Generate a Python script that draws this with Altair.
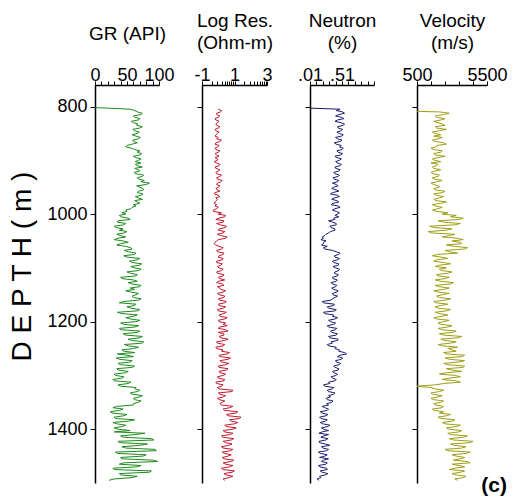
import altair as alt
import pandas as pd

# sampling depths (m), 2.5 m step from 805 m
DEPTH = [805 + 2.5 * i for i in range(277)]

GR = [55, 62, 66, 74, 72, 60, 62, 70, 68, 57, 60, 67, 65, 74, 70, 59, 62, 69, 66, 58,
      64, 71, 68, 59, 60, 66, 58, 50, 48, 57, 62, 70, 66, 73, 70, 60, 64, 72, 68, 63,
      72, 63, 66, 74, 62, 68, 70, 61, 64, 76, 74, 66, 68, 77, 72, 85, 80, 65, 70, 75,
      76, 68, 66, 75, 72, 63, 68, 74, 62, 66, 70, 60, 64, 58, 56, 48, 50, 42, 48, 38,
      40, 52, 55, 36, 35, 48, 45, 30, 32, 44, 38, 50, 46, 34, 40, 48, 36, 30, 44, 52,
      40, 34, 48, 56, 58, 46, 52, 64, 62, 45, 50, 70, 66, 54, 58, 73, 70, 56, 62, 72,
      68, 50, 55, 66, 64, 40, 42, 60, 66, 52, 58, 72, 70, 55, 62, 48, 56, 68, 64, 58,
      60, 72, 68, 45, 38, 64, 62, 50, 56, 70, 66, 35, 42, 66, 60, 48, 55, 70, 64, 40,
      45, 68, 62, 38, 40, 70, 66, 44, 48, 74, 70, 52, 58, 76, 74, 46, 52, 68, 60, 42,
      45, 62, 35, 50, 60, 33, 38, 58, 55, 36, 40, 62, 58, 34, 36, 52, 48, 30, 32, 45,
      42, 28, 30, 56, 52, 36, 40, 64, 62, 70, 66, 55, 58, 74, 70, 60, 62, 72, 68, 60,
      60, 35, 28, 44, 38, 24, 26, 50, 45, 30, 32, 62, 52, 28, 34, 48, 42, 30, 36, 55,
      30, 78, 62, 40, 45, 88, 92, 36, 38, 82, 70, 42, 48, 94, 96, 32, 35, 80, 75, 40,
      42, 90, 98, 45, 38, 72, 65, 28, 30, 88, 85, 38, 40, 66, 58, 30, 22]

LOG_RES = [0.0, 0.2, 0.15, -0.1, -0.1, 0.1, 0.0, -0.2, -0.15, 0.05, -0.05, -0.15, -0.1, 0.1, 0.0, -0.2, -0.15, 0.05, -0.05, -0.15,
           -0.2, 0.0, -0.1, 0.2, 0.1, -0.15, -0.2, 0.05, -0.05, -0.2, -0.15, 0.1, 0.0, -0.2, -0.1, 0.05, -0.2, -0.05, -0.05, -0.25,
           -0.1, 0.1, 0.05, -0.2, -0.15, 0.1, 0.0, -0.15, -0.1, 0.2, 0.1, -0.1, -0.05, 0.25, 0.15, -0.05, -0.1, 0.1, 0.0, -0.15,
           -0.05, 0.1, -0.2, -0.25, 0.0, 0.1, -0.15, -0.05, -0.1, -0.2, -0.25, -0.1, -0.2, 0.0, -0.1, -0.3, -0.3, 0.2, 0.0, 0.45,
           0.4, 0.05, -0.15, 0.35, 0.3, -0.1, 0.1, 0.5, 0.45, 0.05, 0.0, 0.4, 0.3, -0.05, 0.15, 0.55, 0.45, 0.0, -0.1, -0.2,
           -0.25, -0.15, 0.05, 0.3, 0.2, -0.1, -0.05, 0.35, 0.3, 0.05, 0.0, 0.3, 0.25, -0.1, -0.1, 0.25, 0.15, -0.05, 0.05, 0.3,
           0.2, -0.1, -0.05, 0.35, 0.3, 0.0, 0.1, 0.4, 0.0, -0.1, 0.25, 0.35, -0.05, 0.1, 0.15, 0.45, 0.3, -0.05, 0.05, 0.4,
           0.35, 0.0, 0.1, 0.5, 0.4, 0.0, 0.05, 0.45, 0.3, -0.05, 0.0, 0.5, 0.35, 0.05, 0.1, 0.55, 0.4, 0.0, 0.05, 0.45,
           0.3, 0.55, 0.1, 0.0, 0.45, 0.6, 0.0, 0.35, 0.35, 0.05, 0.15, 0.6, 0.4, -0.1, -0.05, 0.4, 0.3, -0.15, -0.1, 0.3,
           0.2, 0.7, 0.55, 0.05, 0.1, 0.75, 0.6, 0.1, 0.2, 0.65, 0.45, 0.0, 0.05, 0.6, 0.5, 0.05, 0.1, 0.45, 0.3, -0.05,
           0.0, 0.4, 0.35, -0.15, -0.1, 0.3, 0.2, -0.05, 0.05, 0.9, 0.85, 0.0, 0.1, 0.45, 0.3, -0.05, 0.05, 0.4, 0.25, 0.1,
           0.2, 0.9, 0.7, 0.3, 0.4, 1.2, 1.1, 0.5, 0.6, 1.4, 1.3, 0.7, 0.8, 1.2, 1.0, 0.4, 0.5, 1.1, 0.9, 0.3,
           0.4, 0.9, 0.7, 0.2, 0.3, 0.95, 0.8, 0.3, 0.45, 0.85, 0.65, 0.2, 0.3, 0.9, 0.75, 0.25, 0.4, 0.8, 0.6, 0.25,
           0.35, 0.95, 0.8, 0.3, 0.45, 0.9, 0.7, 0.2, 0.3, 1.0, 0.85, 0.35, 0.5, 0.9, 0.65, 0.3, 0.4]

NEUTRON = [0.48, 0.42, 0.52, 0.55, 0.46, 0.41, 0.50, 0.54, 0.44, 0.40, 0.49, 0.55, 0.53, 0.44, 0.45, 0.52, 0.50, 0.43, 0.47, 0.53,
           0.50, 0.41, 0.44, 0.51, 0.48, 0.39, 0.42, 0.50, 0.47, 0.53, 0.51, 0.43, 0.45, 0.52, 0.49, 0.40, 0.43, 0.50, 0.47, 0.41,
           0.44, 0.50, 0.48, 0.40, 0.41, 0.48, 0.46, 0.38, 0.40, 0.47, 0.45, 0.37, 0.39, 0.46, 0.44, 0.36, 0.42, 0.45, 0.38, 0.35,
           0.42, 0.46, 0.36, 0.33, 0.44, 0.47, 0.39, 0.35, 0.43, 0.46, 0.37, 0.34, 0.45, 0.48, 0.40, 0.36, 0.42, 0.47, 0.44, 0.40,
           0.46, 0.38, 0.40, 0.30, 0.36, 0.42, 0.42, 0.32, 0.34, 0.40, 0.40, 0.33, 0.30, 0.26, 0.24, 0.20, 0.22, 0.18, 0.26, 0.22,
           0.22, 0.19, 0.28, 0.22, 0.24, 0.36, 0.42, 0.48, 0.46, 0.39, 0.40, 0.47, 0.44, 0.36, 0.38, 0.46, 0.45, 0.37, 0.41, 0.47,
           0.46, 0.40, 0.39, 0.45, 0.44, 0.36, 0.37, 0.44, 0.42, 0.34, 0.36, 0.43, 0.41, 0.35, 0.38, 0.45, 0.43, 0.36, 0.37, 0.44,
           0.40, 0.36, 0.34, 0.20, 0.22, 0.39, 0.38, 0.28, 0.30, 0.42, 0.40, 0.22, 0.24, 0.38, 0.36, 0.44, 0.40, 0.30, 0.33, 0.41,
           0.38, 0.28, 0.30, 0.43, 0.41, 0.33, 0.35, 0.44, 0.42, 0.30, 0.32, 0.45, 0.44, 0.34, 0.36, 0.28, 0.30, 0.42, 0.40, 0.47,
           0.46, 0.55, 0.58, 0.48, 0.44, 0.52, 0.50, 0.41, 0.42, 0.49, 0.47, 0.38, 0.40, 0.46, 0.45, 0.36, 0.38, 0.44, 0.42, 0.34,
           0.36, 0.42, 0.40, 0.30, 0.32, 0.22, 0.24, 0.38, 0.36, 0.28, 0.30, 0.40, 0.38, 0.30, 0.33, 0.26, 0.28, 0.37, 0.35, 0.27,
           0.30, 0.20, 0.24, 0.30, 0.28, 0.17, 0.20, 0.29, 0.26, 0.16, 0.18, 0.28, 0.25, 0.17, 0.21, 0.32, 0.29, 0.19, 0.22, 0.30,
           0.20, 0.15, 0.30, 0.22, 0.18, 0.29, 0.26, 0.15, 0.16, 0.25, 0.32, 0.19, 0.21, 0.30, 0.27, 0.14, 0.17, 0.28, 0.24, 0.16,
           0.30, 0.22, 0.19, 0.28, 0.26, 0.14, 0.16, 0.27, 0.28, 0.17, 0.20, 0.29, 0.25, 0.16, 0.18, 0.12, 0.15]

# velocity log starts at 810 m
VELOCITY = [2100, 2800, 2400, 1800, 1900, 2500, 2200, 1700, 2000, 2300, 2500, 1800, 1900, 2600, 2100, 1600, 1800, 2200,
            1700, 2300, 2000, 1600, 1800, 2400, 2600, 1900, 1900, 1500, 1700, 2300, 2200, 1700, 1800, 2500, 2000, 1600, 1750, 2200,
            1500, 2000, 1900, 1600, 1700, 2200, 1800, 1500, 1650, 2100, 2000, 1600, 1750, 2300, 1900, 1500, 1700, 2000, 2100, 1700,
            1800, 2500, 2300, 1700, 1900, 2400, 2100, 1700, 1850, 2600, 2200, 1600, 1800, 2300, 2000, 1600, 1900, 2700, 2300, 3300,
            2900, 3800, 3500, 2000, 2400, 3600, 3200, 1400, 1700, 3000, 2600, 1300, 1500, 3200, 2800, 2300, 3400, 3800, 3000, 3600,
            3700, 2600, 3200, 4100, 3900, 2500, 2800, 3400, 2000, 1600, 2200, 2700, 1900, 1700, 2400, 2900, 2100, 1800, 2600, 2100,
            2300, 3000, 2700, 1900, 2000, 2800, 2500, 1800, 2200, 3100, 2900, 1800, 2100, 2800, 2400, 1700, 2000, 2800, 2300, 1900,
            2100, 2900, 2500, 1700, 1900, 2700, 2200, 1800, 2000, 2900, 2600, 1800, 2100, 2700, 2300, 1700, 1900, 2800, 2400, 2000,
            2200, 3000, 2700, 2000, 2300, 3300, 3000, 2100, 2400, 3700, 3400, 2200, 2500, 3300, 2900, 2000, 2300, 3400, 2700, 3000,
            3300, 2400, 2600, 3900, 3700, 2500, 2800, 3900, 3500, 2400, 2700, 3900, 3800, 2600, 3000, 3700, 2600, 2100, 3200, 3600,
            2800, 2300, 3300, 3600, 2400, 1800, 500, 1500, 1800, 2400, 2100, 1500, 1600, 2300, 2000, 1500, 1700, 2400, 2200, 1700,
            1800, 2400, 2300, 1600, 1700, 2400, 2100, 2900, 2600, 2000, 2200, 3200, 3000, 2300, 2500, 3600, 3300, 2600, 2800, 3700,
            3500, 2700, 2900, 4100, 3800, 2800, 3100, 4500, 4300, 2900, 3200, 4000, 3700, 2500, 2700, 4300, 4000, 3000, 3300, 3900,
            3600, 3100, 4100, 4300, 3000, 3500, 3900, 3200, 2800, 3900, 3600, 3000, 3300, 4000, 3800, 3200, 3400]

# lead-in points (depth, value) where a trace starts from the track's left edge
GR_LEAD = (802, 0)
NEUTRON_LEAD = (803, 0.01)
VELOCITY_LEAD = (809, 500)

# axis ticks and labels
DEPTH_DOMAIN = [760, 1500]
DEPTH_TICKS = [800, 1000, 1200, 1400]
GR_TICKS = [0, 10, 20, 30, 40, 50, 60, 70, 80, 90, 100]
GR_LABELS = [0, 50, 100]
RES_TICKS = [-1, -0.4, -0.05, 0.2, 0.4, 0.56, 0.69, 0.81, 0.91, 1,
             1.6, 1.95, 2.2, 2.4, 2.56, 2.69, 2.81, 2.91, 3]
RES_LABELS = [-1, 1, 3]
NEU_TICKS = [0.01, 0.11, 0.21, 0.31, 0.41, 0.51, 0.61, 0.71, 0.81, 0.91, 1.01]
NEU_LABELS = [0.01, 0.51]
VEL_TICKS = [500, 1500, 2500, 3500, 4500, 5500]
VEL_LABELS = [500, 5500]

FONT = "Arial"


def frame(depths, values, lead=None):
    d = list(depths)[:len(values)]
    v = list(values)[:len(d)]
    if lead is not None:
        d = [lead[0]] + d
        v = [lead[1]] + v
    return pd.DataFrame({"depth": d, "value": v})


def label_expr(labels, texts):
    parts = []
    for val, txt in zip(labels, texts):
        parts.append(f"datum.value == {val} ? '{txt}' : ")
    return "".join(parts) + "''"


def track(df, domain, ticks, lexpr, title, color, width, first, title_pad):
    if first:
        yaxis = alt.Axis(values=DEPTH_TICKS, labels=True, ticks=True, tickSize=5,
                         format="d", title="D E P T H ( m )",
                         labelFontSize=18, labelPadding=3,
                         titleFontSize=28, titlePadding=10, titleY=181)
    else:
        yaxis = alt.Axis(values=DEPTH_TICKS, labels=False, ticks=True, tickSize=5, title=None)
    return alt.Chart(df).mark_line(color=color, strokeWidth=1).encode(
        x=alt.X("value:Q",
                scale=alt.Scale(domain=domain, nice=False, zero=False),
                axis=alt.Axis(orient="top", values=ticks, labelExpr=lexpr,
                              title=title, titlePadding=title_pad,
                              labelFontSize=18, labelPadding=-3, tickSize=4,
                              labelFlush=False, labelOverlap=False)),
        y=alt.Y("depth:Q",
                scale=alt.Scale(domain=DEPTH_DOMAIN, reverse=True, nice=False, zero=False),
                axis=yaxis),
        order=alt.Order("depth:Q"),
    ).properties(width=width, height=398)


gr_chart = track(frame(DEPTH, GR, GR_LEAD), [0, 100], GR_TICKS,
                 label_expr(GR_LABELS, ["0", "50", "100"]),
                 "GR (API)", "#1e8a1e", 64, True, 23)
res_chart = track(frame(DEPTH, LOG_RES), [-1, 3], RES_TICKS,
                  label_expr(RES_LABELS, ["-1", "1", "3"]),
                  ["Log Res.", "(Ohm-m)"], "#c01a30", 65, False, 14)
neu_chart = track(frame(DEPTH, NEUTRON, NEUTRON_LEAD), [0.01, 1.01], NEU_TICKS,
                  label_expr(NEU_LABELS, [".01", ".51"]),
                  ["Neutron", "(%)"], "#1c1c6c", 64, False, 14)
vel_chart = track(frame(DEPTH[2:], VELOCITY, VELOCITY_LEAD), [500, 5500], VEL_TICKS,
                  label_expr(VEL_LABELS, ["500", "5500"]),
                  ["Velocity", "(m/s)"], "#9e9e18", 70, False, 14)

chart = alt.hconcat(gr_chart, res_chart, neu_chart, vel_chart,
                    spacing=43, bounds="flush").properties(
    title=alt.TitleParams("(c)", orient="bottom", anchor="end", fontSize=21,
                          fontWeight="bold", font=FONT, color="black", offset=-8),
    padding={"left": 8, "top": 11, "right": 10, "bottom": 2},
    background="white",
).configure_view(stroke=None).configure_axis(
    grid=False, domainColor="black", domainWidth=1.5, tickColor="black",
    tickWidth=1, labelColor="black", titleColor="black", labelFont=FONT,
    titleFont=FONT, titleFontWeight="normal", titleFontSize=19,
    titleLineHeight=22,
)

chart.save("out.html", embed_options={"renderer": "svg", "actions": False})
